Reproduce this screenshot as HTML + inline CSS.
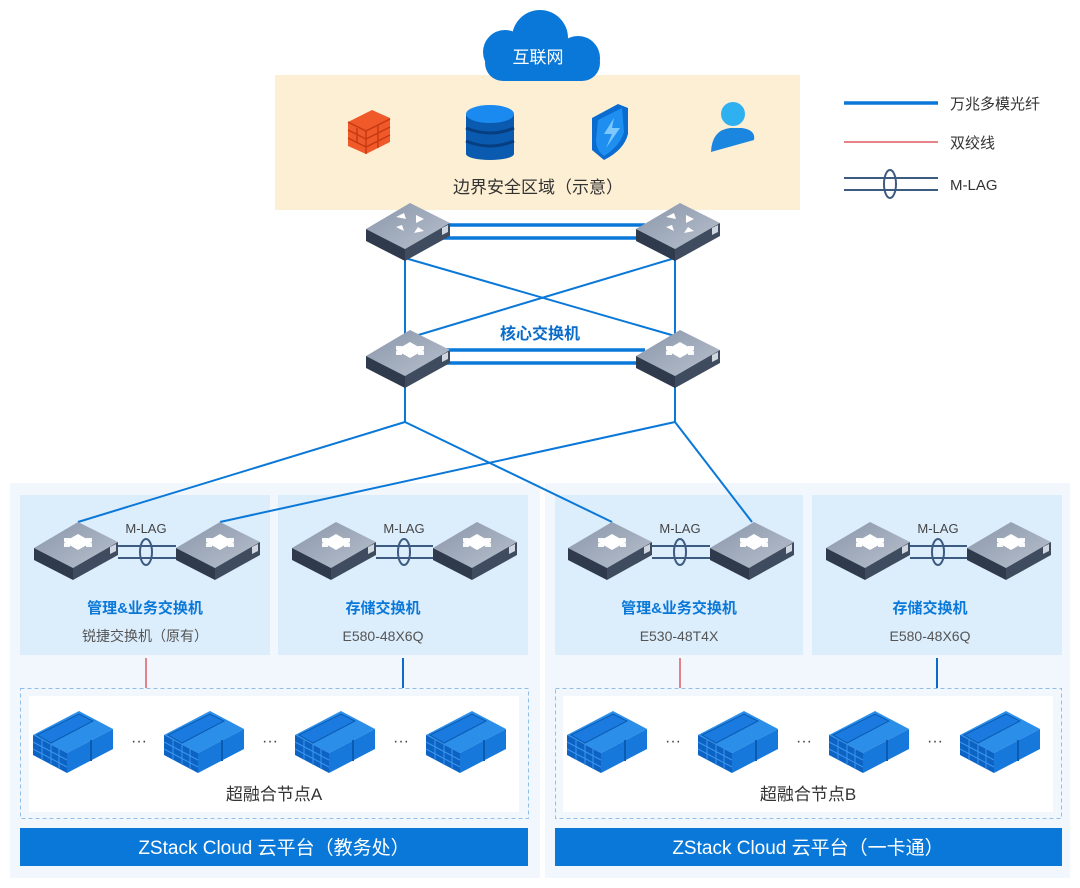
<!DOCTYPE html>
<html><head><meta charset="utf-8"><style>
html,body{margin:0;padding:0;background:#fff;}
svg{display:block;font-family:"Liberation Sans","Noto Sans CJK SC",sans-serif;}
</style></head><body>
<svg width="1080" height="888" viewBox="0 0 1080 888" xmlns="http://www.w3.org/2000/svg">
<defs>
<linearGradient id="tg" x1="0" y1="0" x2="1" y2="1"><stop offset="0" stop-color="#8a96aa"/><stop offset="1" stop-color="#b7c0cd"/></linearGradient>
<g id="sw">
<polygon points="0,26 44,0 84,20 39,46" fill="url(#tg)"/>
<polygon points="0,26 39,46 39,58 0,38" fill="#2f3a4c"/>
<polygon points="39,46 84,20 84,33 39,58" fill="#3f4b5e"/>
<polygon points="76,25 82,22 82,29 76,32" fill="#cfd6df"/>
<g fill="#fff"><polygon points="30,20 44,12 58,20 44,28"/></g>
<g fill="#fff" opacity=".95"><rect x="30" y="16" width="6" height="4"/><rect x="52" y="16" width="6" height="4"/><rect x="30" y="21" width="6" height="4"/><rect x="52" y="21" width="6" height="4"/></g>
</g>
<g id="rt">
<polygon points="0,26 44,0 84,20 39,46" fill="url(#tg)"/>
<polygon points="0,26 39,46 39,58 0,38" fill="#2f3a4c"/>
<polygon points="39,46 84,20 84,33 39,58" fill="#3f4b5e"/>
<polygon points="76,25 82,22 82,29 76,32" fill="#cfd6df"/>
<g fill="#fff"><polygon points="30,14 38,10 40,16"/><polygon points="50,12 58,16 50,20"/><polygon points="30,24 38,28 36,22"/><polygon points="52,24 58,28 48,30"/></g>
</g>
<g id="srv">
<polygon points="0,24 46,0 80,18 34,42" fill="#2b8fea"/>
<polygon points="4,24 46,3 60,10 18,32" fill="#1a7ae0" stroke="#0b5bb0" stroke-width="1"/>
<polygon points="0,24 34,42 34,62 0,44" fill="#0c63c4"/>
<polygon points="34,42 80,18 80,38 34,62" fill="#1778dc"/>
<g stroke="#3a95ef" stroke-width="1"><line x1="0" y1="31" x2="34" y2="49"/><line x1="0" y1="38" x2="34" y2="56"/><line x1="9" y1="29" x2="9" y2="49"/><line x1="18" y1="33" x2="18" y2="54"/><line x1="26" y1="38" x2="26" y2="58"/></g>
<line x1="58" y1="29" x2="58" y2="50" stroke="#0b5bb0" stroke-width="2"/>
</g>
</defs>

<rect x="10" y="483" width="530" height="395" fill="#f1f7fd"/>
<rect x="545" y="483" width="525" height="395" fill="#f1f7fd"/>
<rect x="20" y="495" width="250" height="160" fill="#dcedfc"/>
<rect x="278" y="495" width="250" height="160" fill="#dcedfc"/>
<rect x="555" y="495" width="248" height="160" fill="#dcedfc"/>
<rect x="812" y="495" width="250" height="160" fill="#dcedfc"/>

<rect x="275" y="75" width="525" height="135" fill="#fdefd3"/>
<g fill="#0a78d8">
<circle cx="540" cy="38" r="28"/><circle cx="505" cy="52" r="22"/><circle cx="578" cy="58" r="22"/>
<rect x="485" y="45" width="115" height="36" rx="18"/>
</g>
<text x="538" y="63" font-size="17" fill="#fff" text-anchor="middle">互联网</text>

<g>
<polygon points="348,122 372,110 390,118 390,142 366,154 348,146" fill="#f05a2a"/>
<g stroke="#c83a12" stroke-width="1.5" fill="none"><path d="M348,130 L366,139 L390,127"/><path d="M348,138 L366,147 L390,135"/><path d="M348,122 L366,131 L390,119"/><line x1="366" y1="131" x2="366" y2="154"/><line x1="357" y1="128" x2="357" y2="142"/><line x1="378" y1="125" x2="378" y2="148"/></g>
</g>
<g>
<rect x="466" y="114" width="48" height="40" fill="#0a5bb0"/>
<ellipse cx="490" cy="154" rx="24" ry="6" fill="#0a5bb0"/>
<ellipse cx="490" cy="114" rx="24" ry="9" fill="#1a8af0"/>
<path d="M466,128 Q490,138 514,128" stroke="#063e80" stroke-width="3" fill="none"/>
<path d="M466,141 Q490,151 514,141" stroke="#063e80" stroke-width="3" fill="none"/>
</g>
<g>
<path d="M592,118 L618,104 L628,108 L628,134 Q624,150 604,160 L592,150 Z" fill="#0a6cd0"/>
<path d="M598,120 L622,108 L624,132 Q620,146 604,156 Q596,150 596,140 Z" fill="#1e8ff0"/>
<polygon points="614,118 604,134 612,134 606,148 620,128 612,128" fill="#7cc8ff"/>
</g>
<g>
<circle cx="733" cy="114" r="12" fill="#2fb0f0"/>
<path d="M711,152 Q712,130 730,128 L742,128 Q756,130 754,140 Z" fill="#1a86e0"/>
</g>
<text x="538" y="193" font-size="17" fill="#333" text-anchor="middle">边界安全区域（示意）</text>

<g stroke="#0a78d8" stroke-width="2" fill="none">
<line x1="405" y1="258" x2="405" y2="340"/>
<line x1="675" y1="258" x2="675" y2="340"/>
<line x1="405" y1="258" x2="675" y2="336"/>
<line x1="675" y1="258" x2="415" y2="336"/>
<line x1="405" y1="386" x2="405" y2="422"/>
<line x1="675" y1="386" x2="675" y2="422"/>
<line x1="405" y1="422" x2="78" y2="522"/>
<line x1="405" y1="422" x2="612" y2="522"/>
<line x1="675" y1="422" x2="220" y2="522"/>
<line x1="675" y1="422" x2="752" y2="522"/>
</g>
<g stroke="#0a78d8" stroke-width="3.5">
<line x1="440" y1="225" x2="645" y2="225"/><line x1="440" y1="238" x2="645" y2="238"/>
<line x1="440" y1="350" x2="645" y2="350"/><line x1="440" y1="363" x2="645" y2="363"/>
</g>
<use href="#rt" x="366" y="203"/><use href="#rt" x="636" y="203"/>
<use href="#sw" x="366" y="330"/><use href="#sw" x="636" y="330"/>
<text x="540" y="339" font-size="16" font-weight="bold" fill="#0a6cc8" text-anchor="middle">核心交换机</text>

<g stroke="#3d5a80" stroke-width="2" fill="none">
<line x1="118" y1="546" x2="176" y2="546"/><line x1="118" y1="558" x2="176" y2="558"/><ellipse cx="146" cy="552" rx="6" ry="13"/>
<line x1="376" y1="546" x2="433" y2="546"/><line x1="376" y1="558" x2="433" y2="558"/><ellipse cx="404" cy="552" rx="6" ry="13"/>
<line x1="652" y1="546" x2="710" y2="546"/><line x1="652" y1="558" x2="710" y2="558"/><ellipse cx="680" cy="552" rx="6" ry="13"/>
<line x1="910" y1="546" x2="967" y2="546"/><line x1="910" y1="558" x2="967" y2="558"/><ellipse cx="938" cy="552" rx="6" ry="13"/>
</g>
<use href="#sw" x="34" y="522"/><use href="#sw" x="176" y="522"/>
<use href="#sw" x="292" y="522"/><use href="#sw" x="433" y="522"/>
<use href="#sw" x="568" y="522"/><use href="#sw" x="710" y="522"/>
<use href="#sw" x="826" y="522"/><use href="#sw" x="967" y="522"/>
<g font-size="13" fill="#444" text-anchor="middle">
<text x="146" y="533">M-LAG</text><text x="404" y="533">M-LAG</text><text x="680" y="533">M-LAG</text><text x="938" y="533">M-LAG</text>
</g>
<g font-size="15" font-weight="bold" fill="#0a78d8" text-anchor="middle">
<text x="145" y="613">管理&amp;业务交换机</text><text x="383" y="613">存储交换机</text>
<text x="679" y="613">管理&amp;业务交换机</text><text x="930" y="613">存储交换机</text>
</g>
<g font-size="14" fill="#555" text-anchor="middle">
<text x="145" y="641">锐捷交换机（原有）</text><text x="383" y="641">E580-48X6Q</text>
<text x="679" y="641">E530-48T4X</text><text x="930" y="641">E580-48X6Q</text>
</g>

<line x1="146" y1="658" x2="146" y2="688" stroke="#e05a64" stroke-width="1.5"/>
<line x1="403" y1="658" x2="403" y2="688" stroke="#0a6cc8" stroke-width="2"/>
<line x1="680" y1="658" x2="680" y2="688" stroke="#e05a64" stroke-width="1.5"/>
<line x1="937" y1="658" x2="937" y2="688" stroke="#0a6cc8" stroke-width="2"/>

<rect x="20.5" y="688.5" width="508" height="130" fill="none" stroke="#8fbfe8" stroke-dasharray="4,3"/>
<rect x="29" y="696" width="490" height="116" fill="#fff"/>
<rect x="555.5" y="688.5" width="506" height="130" fill="none" stroke="#8fbfe8" stroke-dasharray="4,3"/>
<rect x="563" y="696" width="490" height="116" fill="#fff"/>
<use href="#srv" x="33" y="711"/><use href="#srv" x="164" y="711"/><use href="#srv" x="295" y="711"/><use href="#srv" x="426" y="711"/>
<use href="#srv" x="567" y="711"/><use href="#srv" x="698" y="711"/><use href="#srv" x="829" y="711"/><use href="#srv" x="960" y="711"/>
<g font-size="16" fill="#444" text-anchor="middle">
<text x="139" y="746">···</text><text x="270" y="746">···</text><text x="401" y="746">···</text>
<text x="673" y="746">···</text><text x="804" y="746">···</text><text x="935" y="746">···</text>
</g>
<text x="274" y="800" font-size="17" fill="#333" text-anchor="middle">超融合节点A</text>
<text x="808" y="800" font-size="17" fill="#333" text-anchor="middle">超融合节点B</text>

<rect x="20" y="828" width="508" height="38" fill="#0a78d8"/>
<rect x="555" y="828" width="507" height="38" fill="#0a78d8"/>
<text x="274" y="854" font-size="19" fill="#fff" text-anchor="middle">ZStack Cloud 云平台（教务处）</text>
<text x="808" y="854" font-size="19" fill="#fff" text-anchor="middle">ZStack Cloud 云平台（一卡通）</text>

<line x1="844" y1="103" x2="938" y2="103" stroke="#0a78d8" stroke-width="3.5"/>
<line x1="844" y1="142" x2="938" y2="142" stroke="#e05a64" stroke-width="1.5"/>
<g stroke="#3d5a80" stroke-width="2" fill="none"><line x1="844" y1="178" x2="938" y2="178"/><line x1="844" y1="190" x2="938" y2="190"/><ellipse cx="890" cy="184" rx="6" ry="14"/></g>
<g font-size="15" fill="#333"><text x="950" y="109">万兆多模光纤</text><text x="950" y="148">双绞线</text><text x="950" y="190">M-LAG</text></g>
</svg>
</body></html>
